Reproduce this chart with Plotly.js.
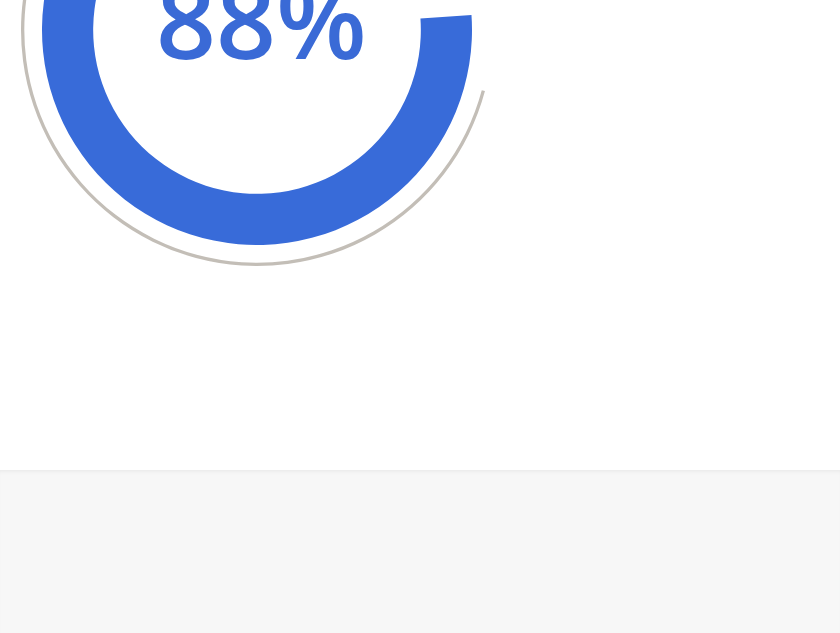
<!DOCTYPE html>
<html>
<head>
<meta charset="utf-8">
<script src="https://cdn.plot.ly/plotly-3.0.1.min.js"></script>
<style>
  html, body { margin: 0; padding: 0; width: 840px; height: 633px; overflow: hidden; background: #ffffff; }
  #band { position: absolute; left: 0; top: 470px; width: 840px; height: 163px; background: #f7f7f7;
          box-shadow: inset 0 4px 4px -3px #e6e6e6; }
  #chart { position: absolute; left: 0; top: -300px; width: 840px; height: 933px; }
</style>
</head>
<body>
<div id="band"></div>
<div id="chart"></div>
<script>
// Progress value shown on the gauge
const progressLabels = ["Completed", "Remaining"];
const progressValues = [88, 12];
const displayText = "88%";
// Outer thin track arc
const trackLabels = ["Track", "Gap"];
const trackValues = [75, 25];

const W = 840, H = 933;
const cx = 257, cy = 330;           // centre in div pixels
const rBlue = 215, rGray = 236;

function dom(r) {
  return {
    x: [(cx - r) / W, (cx + r) / W],
    y: [(H - cy - r) / H, (H - cy + r) / H]
  };
}

const data = [
  {
    type: "pie",
    labels: trackLabels,
    values: trackValues,
    sort: false,
    direction: "clockwise",
    rotation: 105,
    hole: 0.986,
    domain: dom(rGray),
    marker: { colors: ["#c3beb7", "rgba(0,0,0,0)"], line: { width: 0 } },
    textinfo: "none",
    hoverinfo: "skip",
    showlegend: false
  },
  {
    type: "pie",
    labels: progressLabels,
    values: progressValues,
    sort: false,
    direction: "clockwise",
    rotation: 86,
    hole: 0.762,
    domain: dom(rBlue),
    marker: { colors: ["#386bd9", "rgba(0,0,0,0)"], line: { width: 0 } },
    textinfo: "none",
    hoverinfo: "skip",
    showlegend: false
  }
];

const layout = {
  width: W,
  height: H,
  margin: { l: 0, r: 0, t: 0, b: 0 },
  paper_bgcolor: "rgba(0,0,0,0)",
  plot_bgcolor: "rgba(0,0,0,0)",
  showlegend: false,
  annotations: [{
    text: displayText,
    x: 261 / W,
    y: (H - 318) / H,
    xref: "paper",
    yref: "paper",
    xanchor: "center",
    yanchor: "middle",
    showarrow: false,
    font: { family: "Open Sans, sans-serif", size: 105, weight: 600, color: "#3a6ad6" }
  }]
};

Plotly.newPlot("chart", data, layout, { displayModeBar: false, staticPlot: true });
</script>
</body>
</html>
